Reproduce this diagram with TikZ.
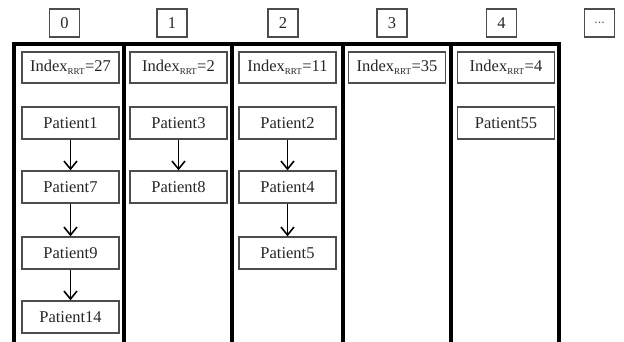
\documentclass[tikz,border=0pt]{standalone}
\usepackage{fontspec}
\setmainfont{Liberation Serif}
\usetikzlibrary{arrows.meta}
\begin{document}
\begin{tikzpicture}[x=1pt,y=-1pt,
  every node/.style={font=\fontsize{16.5}{19}\selectfont, text=black!85},
  hdr/.style={draw=black!70, line width=1.2pt, minimum width=30pt, minimum height=28pt, inner sep=0pt},
  idx/.style={draw=black!70, line width=1.4pt, minimum width=97pt, minimum height=31pt, inner sep=0pt},
  pat/.style={draw=black!70, line width=1.4pt, minimum width=97pt, minimum height=32pt, inner sep=0pt},
  col/.style={line width=3.5pt, black},
  link/.style={line width=1.6pt, black, -{Straight Barb[length=8pt, width=13pt, line width=1.6pt]}}]
\useasboundingbox (0,0) rectangle (624,342);
% header indices
\node[hdr] (h0) at (64.5,23) {0};
\node[hdr] (h1) at (172,23) {1};
\node[hdr] (h2) at (283,23) {2};
\node[hdr] (h3) at (392,23) {3};
\node[hdr] (h4) at (501.5,23) {4};
\node[hdr, text=black!60] (h5) at (599.5,23) {\fontsize{14}{16}\selectfont ...};
% column frame
\coordinate (c0t) at (14,44);
\coordinate (c5t) at (559,44);
\coordinate (c0b) at (14,343);
\coordinate (c1t) at (124,44);
\coordinate (c1b) at (124,343);
\coordinate (c2t) at (232,44);
\coordinate (c2b) at (232,343);
\coordinate (c3t) at (343,44);
\coordinate (c3b) at (343,343);
\coordinate (c4t) at (451,44);
\coordinate (c4b) at (451,343);
\coordinate (c5b) at (559,343);
\draw[col, line join=miter] (c0b) -- (c0t) -- (c5t) -- (c5b);
\draw[col] (c1t) -- (c1b);
\draw[col] (c2t) -- (c2b);
\draw[col] (c3t) -- (c3b);
\draw[col] (c4t) -- (c4b);
% index boxes
\newcommand{\rrt}{\textsubscript{\fontsize{9}{10}\selectfont RRT}}
\node[idx] (i0) at (70.5,67.5) {Index\rrt=27};
\node[idx] (i1) at (178.5,67.5) {Index\rrt=2};
\node[idx] (i2) at (287.5,67.5) {Index\rrt=11};
\node[idx] (i3) at (397,67.5) {Index\rrt=35};
\node[idx] (i4) at (506,67.5) {Index\rrt=4};
% patients
\node[pat] (p1) at (70.5,123) {Patient1};
\node[pat] (p7) at (70.5,187) {Patient7};
\node[pat] (p9) at (70.5,253) {Patient9};
\node[pat] (p14) at (70.5,317) {Patient14};
\node[pat] (p3) at (178.5,123) {Patient3};
\node[pat] (p8) at (178.5,187) {Patient8};
\node[pat] (p2) at (287.5,123) {Patient2};
\node[pat] (p4) at (287.5,187) {Patient4};
\node[pat] (p5) at (287.5,253) {Patient5};
\node[pat] (p55) at (506,123) {Patient55};
% links
\draw[link] (p1) -- (p7);
\draw[link] (p7) -- (p9);
\draw[link] (p9) -- (p14);
\draw[link] (p3) -- (p8);
\draw[link] (p2) -- (p4);
\draw[link] (p4) -- (p5);
\end{tikzpicture}
\end{document}
